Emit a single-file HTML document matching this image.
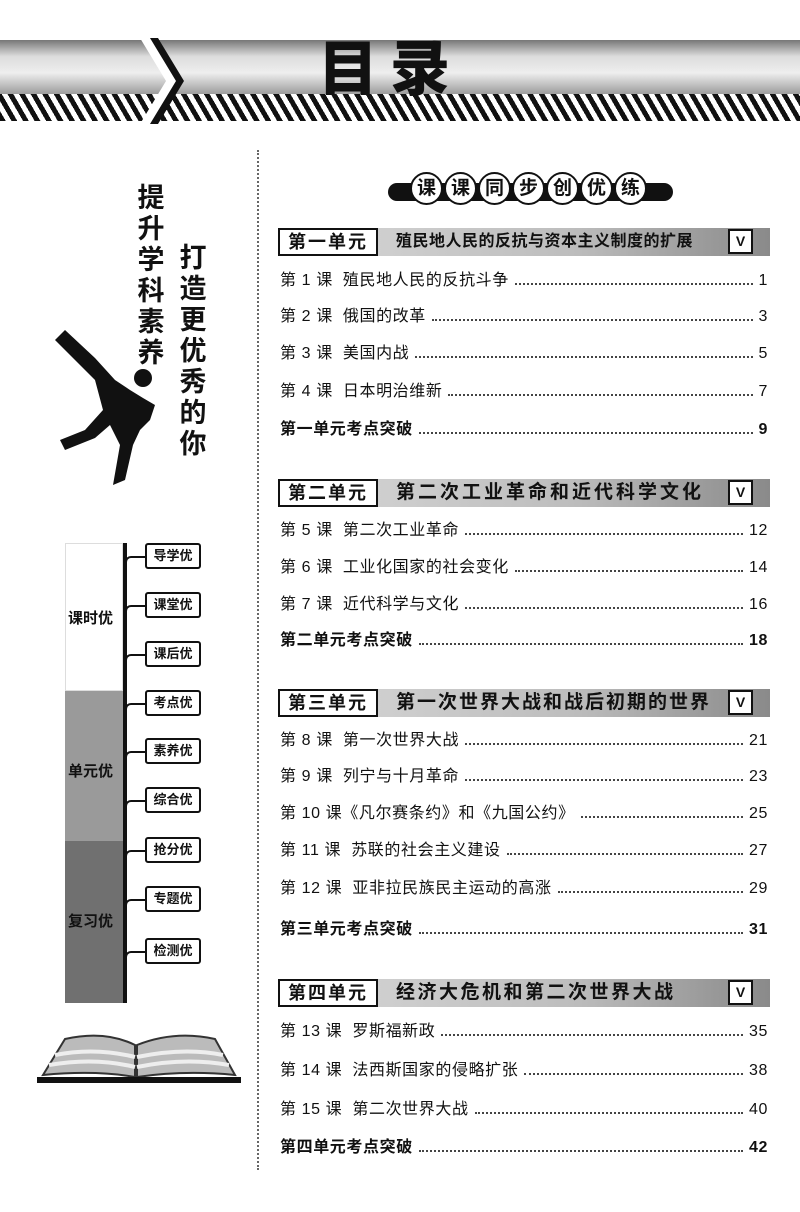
<!DOCTYPE html>
<html><head><meta charset="utf-8"><style>
*{margin:0;padding:0;box-sizing:border-box}
body{width:800px;height:1212px;background:#fff;position:relative;overflow:hidden;font-family:"Liberation Sans","Noto Sans CJK SC",sans-serif;color:#111}
.a{position:absolute}
.row{position:absolute;left:280px;width:488px;display:flex;align-items:baseline;font-size:16px;letter-spacing:.6px;line-height:20px;white-space:nowrap}
.row .d{flex:1;border-bottom:2px dotted #444;margin:0 6px 4px 6px;height:1px}
.row.b{font-weight:bold}
.uh{position:absolute;left:278px;width:492px;height:28px;background:linear-gradient(90deg,#d8d8d8,#bdbdbd 60%,#8a8a8a)}
.uh .l{position:absolute;left:0;top:0;width:100px;height:28px;border:2px solid #111;background:#fff;font-weight:bold;font-size:18px;letter-spacing:2px;text-align:center;line-height:24px}
.uh .t{position:absolute;left:118px;top:0;font-weight:bold;font-size:19px;letter-spacing:3px;line-height:28px;white-space:nowrap}
.uh .v{position:absolute;left:450px;top:1px;width:25px;height:25px;border:2px solid #111;background:#fff;font-size:14px;font-weight:bold;text-align:center;line-height:21px}
.bx{position:absolute;left:145px;width:56px;height:26px;border:2px solid #111;border-radius:3px;background:#fff;font-weight:bold;font-size:13px;text-align:center;line-height:22px}
.cn{position:absolute;left:125px;width:20px;height:14px;border-left:2px solid #111;border-top:2px solid #111;border-top-left-radius:6px}
.vt{position:absolute;font-weight:bold;width:34px;text-align:center;line-height:31px;font-size:27px}
.c{display:inline-block;width:33px;height:33px;border:2px solid #111;border-radius:50%;background:#fff;font-weight:bold;font-size:19px;text-align:center;line-height:29px}
</style></head><body>
<div class="a" style="left:0;top:40px;width:800px;height:55px;background:linear-gradient(180deg,#777,#ddd 30%,#eee 60%,#999)"></div>
<div class="a" style="left:0;top:94px;width:800px;height:27px;background:repeating-linear-gradient(60deg,#111 0 5px,#fff 5px 10px)"></div>
<svg class="a" style="left:140px;top:38px" width="60" height="86"><polygon points="0,0 14,0 40,43 14,86 0,86 26,43" fill="#fff"/><polygon points="10,0 18,0 44,43 18,86 10,86 36,43" fill="#111"/></svg>
<div class="a" style="left:318px;top:38px;font-size:60px;font-weight:900;letter-spacing:12px;line-height:64px;color:#111">目录</div>
<div class="a" style="left:257px;top:150px;height:1020px;border-left:2px dotted #666"></div>
<div class="vt" style="left:134px;top:183px">提<br>升<br>学<br>科<br>素<br>养</div>
<div class="vt" style="left:176px;top:243px">打<br>造<br>更<br>优<br>秀<br>的<br>你</div>
<svg class="a" style="left:45px;top:320px" width="120" height="170"><path d="M10,20 L30,40 L50,60 L58,90 L40,110 L15,120 L20,130 L50,118 L65,105 L75,125 L68,165 L80,160 L88,125 L95,110 L105,100 L110,85 L98,78 L85,70 L70,60 L50,38 L20,10Z" fill="#111"/><circle cx="98" cy="58" r="9" fill="#111"/></svg>
<div class="a" style="left:65px;top:543px;width:58px;height:148px;background:#fff;border:1px solid #ddd"></div>
<div class="a" style="left:65px;top:691px;width:58px;height:150px;background:#9a9a9a"></div>
<div class="a" style="left:65px;top:841px;width:58px;height:162px;background:#707070"></div>
<div class="a" style="left:123px;top:543px;width:4px;height:460px;background:#111"></div>
<div class="a" style="left:68px;top:607px;font-size:15px;font-weight:bold;background:#fff">课时优</div>
<div class="a" style="left:68px;top:760px;font-size:15px;font-weight:bold;color:#111">单元优</div>
<div class="a" style="left:68px;top:910px;font-size:15px;font-weight:bold;color:#111">复习优</div>
<div class="cn" style="top:556px"></div><div class="bx" style="top:543px">导学优</div>
<div class="cn" style="top:605px"></div><div class="bx" style="top:592px">课堂优</div>
<div class="cn" style="top:654px"></div><div class="bx" style="top:641px">课后优</div>
<div class="cn" style="top:703px"></div><div class="bx" style="top:690px">考点优</div>
<div class="cn" style="top:751px"></div><div class="bx" style="top:738px">素养优</div>
<div class="cn" style="top:800px"></div><div class="bx" style="top:787px">综合优</div>
<div class="cn" style="top:850px"></div><div class="bx" style="top:837px">抢分优</div>
<div class="cn" style="top:899px"></div><div class="bx" style="top:886px">专题优</div>
<div class="cn" style="top:951px"></div><div class="bx" style="top:938px">检测优</div>
<svg class="a" style="left:35px;top:1025px" width="210" height="62"><path d="M8,50 L30,14 Q70,5 100,20 L100,52 Q60,45 8,50Z" fill="#bbb" stroke="#333" stroke-width="2"/><path d="M200,50 L180,14 Q140,5 102,20 L102,52 Q150,45 200,50Z" fill="#bbb" stroke="#333" stroke-width="2"/><path d="M20,30 Q60,22 100,32 M188,30 Q150,22 102,32 M14,40 Q60,32 100,42 M194,40 Q150,32 102,42" stroke="#eee" stroke-width="4" fill="none"/><rect x="2" y="52" width="204" height="6" fill="#111"/></svg>
<div class="a" style="left:388px;top:183px;width:285px;height:18px;background:#111;border-radius:9px"></div>
<div class="a" style="left:410px;top:172px;display:flex;gap:1px"><span class="c">课</span><span class="c">课</span><span class="c">同</span><span class="c">步</span><span class="c">创</span><span class="c">优</span><span class="c">练</span></div>
<div class="uh" style="top:228px"><div class="l">第一单元</div><div class="t" style="font-size:16px;letter-spacing:0.5px">殖民地人民的反抗与资本主义制度的扩展</div><div class="v">V</div></div>
<div class="row" style="top:271px"><span>第 1 课&nbsp; 殖民地人民的反抗斗争</span><span class="d"></span><span>1</span></div>
<div class="row" style="top:307px"><span>第 2 课&nbsp; 俄国的改革</span><span class="d"></span><span>3</span></div>
<div class="row" style="top:344px"><span>第 3 课&nbsp; 美国内战</span><span class="d"></span><span>5</span></div>
<div class="row" style="top:382px"><span>第 4 课&nbsp; 日本明治维新</span><span class="d"></span><span>7</span></div>
<div class="row b" style="top:420px"><span>第一单元考点突破</span><span class="d"></span><span>9</span></div>
<div class="uh" style="top:479px"><div class="l">第二单元</div><div class="t">第二次工业革命和近代科学文化</div><div class="v">V</div></div>
<div class="row" style="top:521px"><span>第 5 课&nbsp; 第二次工业革命</span><span class="d"></span><span>12</span></div>
<div class="row" style="top:558px"><span>第 6 课&nbsp; 工业化国家的社会变化</span><span class="d"></span><span>14</span></div>
<div class="row" style="top:595px"><span>第 7 课&nbsp; 近代科学与文化</span><span class="d"></span><span>16</span></div>
<div class="row b" style="top:631px"><span>第二单元考点突破</span><span class="d"></span><span>18</span></div>
<div class="uh" style="top:689px"><div class="l">第三单元</div><div class="t" style="letter-spacing:2px">第一次世界大战和战后初期的世界</div><div class="v">V</div></div>
<div class="row" style="top:731px"><span>第 8 课&nbsp; 第一次世界大战</span><span class="d"></span><span>21</span></div>
<div class="row" style="top:767px"><span>第 9 课&nbsp; 列宁与十月革命</span><span class="d"></span><span>23</span></div>
<div class="row" style="top:804px"><span>第 10 课《凡尔赛条约》和《九国公约》</span><span class="d"></span><span>25</span></div>
<div class="row" style="top:841px"><span>第 11 课&nbsp; 苏联的社会主义建设</span><span class="d"></span><span>27</span></div>
<div class="row" style="top:879px"><span>第 12 课&nbsp; 亚非拉民族民主运动的高涨</span><span class="d"></span><span>29</span></div>
<div class="row b" style="top:920px"><span>第三单元考点突破</span><span class="d"></span><span>31</span></div>
<div class="uh" style="top:979px"><div class="l">第四单元</div><div class="t" style="letter-spacing:2.5px">经济大危机和第二次世界大战</div><div class="v">V</div></div>
<div class="row" style="top:1022px"><span>第 13 课&nbsp; 罗斯福新政</span><span class="d"></span><span>35</span></div>
<div class="row" style="top:1061px"><span>第 14 课&nbsp; 法西斯国家的侵略扩张</span><span class="d"></span><span>38</span></div>
<div class="row" style="top:1100px"><span>第 15 课&nbsp; 第二次世界大战</span><span class="d"></span><span>40</span></div>
<div class="row b" style="top:1138px"><span>第四单元考点突破</span><span class="d"></span><span>42</span></div>
</body></html>
